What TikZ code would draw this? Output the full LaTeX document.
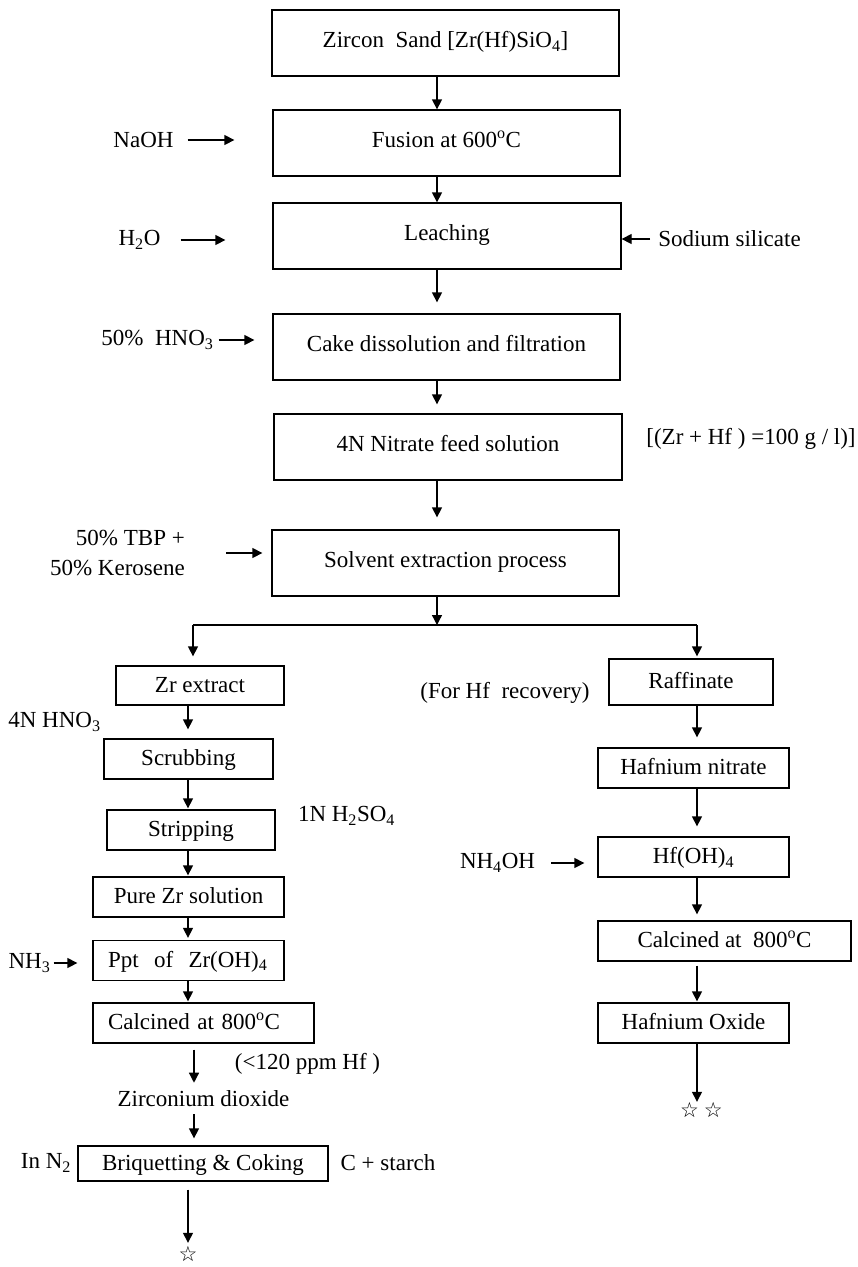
\documentclass[tikz,border=0pt]{standalone}
\usepackage{fontspec}
\setmainfont{Liberation Serif}
\newfontfamily\symfont{DejaVu Sans}
\usetikzlibrary{arrows.meta}
\begin{document}
\begin{tikzpicture}[x=1pt,y=-1pt,
  box/.style={draw, line width=1.3pt, inner sep=0pt, font=\fontsize{23}{27}\selectfont,
    text height=15pt, text depth=6pt},
  sbox/.style={draw, line width=1.3pt, inner sep=0pt, font=\fontsize{23}{27}\selectfont,
    text height=17pt, text depth=4pt},
  lbl/.style={inner sep=0pt, font=\fontsize{23}{30}\selectfont},
  arr/.style={line width=1.3pt, -{Triangle[length=10pt,width=10pt]}},
  ln/.style={line width=1.3pt},
  star/.style={inner sep=0pt, anchor=base, text height=13pt, text depth=0pt,
    font=\symfont\fontsize{21}{21}\selectfont}]
\useasboundingbox (0,0) rectangle (858,1267);

% main column
\node[box, minimum width=347pt, minimum height=66pt] (zircon) at (445.5,43) {Zircon\ \ Sand [Zr(Hf)SiO\textsubscript{4}]};
\node[box, minimum width=347pt, minimum height=66pt] (fusion) at (446.5,143) {Fusion at 600\textsuperscript{o}C};
\node[box, minimum width=348pt, minimum height=66pt] (leach) at (447,236) {Leaching};
\node[box, minimum width=347pt, minimum height=66pt] (cake) at (446.5,347) {Cake dissolution and filtration};
\node[box, minimum width=348pt, minimum height=66pt] (nitrate) at (448,447) {4N Nitrate feed solution};
\node[box, minimum width=347pt, minimum height=66pt] (solvent) at (445.5,563) {Solvent extraction process};

% side labels, main column
\node[lbl] (naoh) at (143.5,140) {NaOH};
\node[lbl] (h2o) at (139.5,240) {H\textsubscript{2}O};
\node[lbl] (sodium) at (729.5,239) {Sodium silicate};
\node[lbl] (hno3) at (157.5,340) {50\%\ \ HNO\textsubscript{3}};
\node[lbl] (conc) at (751,439) {[(Zr + Hf ) =100 g / l)]};
\node[lbl, align=right, anchor=east] (tbp) at (185,553) {50\% TBP +\\50\% Kerosene};

\coordinate (cx) at (437,0);
\draw[arr] (zircon.south -| cx) -- (fusion.north -| cx);
\draw[arr] (fusion.south -| cx) -- (leach.north -| cx);
\draw[arr, shorten >=11pt] (leach.south -| cx) -- (cake.north -| cx);
\draw[arr, shorten >=9pt] (cake.south -| cx) -- (nitrate.north -| cx);
\draw[arr, shorten >=12pt] (nitrate.south -| cx) -- (solvent.north -| cx);

\draw[arr, shorten <=14pt, shorten >=38pt] (naoh.east) -- (naoh.east -| fusion.west);
\draw[arr, shorten <=20pt, shorten >=47pt] (h2o.east) -- (h2o.east -| leach.west);
\draw[arr, shorten <=8pt] (sodium.west) -- (sodium.west -| leach.east);
\draw[arr, shorten <=5pt, shorten >=18pt] (hno3.east) -- (hno3.east -| cake.west);
\draw[arr, shorten <=41pt, shorten >=9pt] (tbp.east) -- (tbp.east -| solvent.west);

% split
\coordinate (split) at (437,625);
\coordinate (splitL) at (193,625);
\coordinate (splitR) at (697,625);
\draw[arr] (solvent.south -| cx) -- (split);
\draw[ln] (splitL) -- (splitR);

% left column
\node[sbox, minimum width=168pt, minimum height=39pt] (zrext) at (200,685.5) {Zr extract};
\node[sbox, minimum width=169pt, minimum height=40pt] (scrub) at (188.5,759) {Scrubbing};
\node[sbox, minimum width=168pt, minimum height=40pt] (strip) at (191,830) {Stripping};
\node[sbox, minimum width=191pt, minimum height=40pt] (pure) at (188.5,897) {Pure Zr solution};
\node[sbox, minimum width=191pt, minimum height=40pt, text width=161pt, align=left, inner xsep=15pt] (ppt) at (188.5,960.5) {Ppt\ \ of\ \ Zr(OH)\textsubscript{4}};
\node[sbox, minimum width=221pt, minimum height=40pt, text width=191pt, align=left, inner xsep=15pt] (calc1) at (203.5,1023) {Calcined at 800\textsuperscript{o}C};
\node[lbl] (zro2) at (203.5,1099) {Zirconium dioxide};
\node[sbox, minimum width=250pt, minimum height=35pt] (briq) at (203,1163.5) {Briquetting \& Coking};
\node[star] (star1) at (188,1261) {☆};

\node[lbl] (hno3b) at (54.5,722) {4N HNO\textsubscript{3}};
\node[lbl] (h2so4) at (346.5,816) {1N H\textsubscript{2}SO\textsubscript{4}};
\node[lbl] (nh3) at (29.5,963) {NH\textsubscript{3}};
\node[lbl] (ppm) at (307.5,1064) {(<120 ppm Hf )};
\node[lbl] (inn2) at (46,1163) {In N\textsubscript{2}};
\node[lbl] (cstarch) at (388,1163) {C + starch};

\coordinate (lx) at (188,0);
\coordinate (lx2) at (194,0);
\draw[arr, shorten >=9pt] (splitL) -- (zrext.north -| splitL);
\draw[arr, shorten >=9pt] (zrext.south -| lx) -- (scrub.north -| lx);
\draw[arr, shorten >=1pt] (scrub.south -| lx) -- (strip.north -| lx);
\draw[arr, shorten >=1pt] (strip.south -| lx) -- (pure.north -| lx);
\draw[arr, shorten >=2pt] (pure.south -| lx) -- (ppt.north -| lx);
\draw[arr, shorten >=1pt] (ppt.south -| lx) -- (calc1.north -| lx);
\draw[arr, shorten <=6pt, shorten >=8pt] (calc1.south -| lx2) -- (zro2.north -| lx2);
\draw[arr, shorten <=7pt, shorten >=7pt] (zro2.south -| lx2) -- (briq.north -| lx2);
\draw[arr, shorten <=8pt, shorten >=5pt] (briq.south -| lx) -- (star1.north -| lx);
\draw[arr, shorten <=3pt, shorten >=15pt] (nh3.east) -- (nh3.east -| ppt.west);

% right column
\node[sbox, minimum width=164pt, minimum height=46pt] (raff) at (691,682) {Raffinate};
\node[sbox, minimum width=191pt, minimum height=40pt] (hfn) at (693.5,768) {Hafnium nitrate};
\node[sbox, minimum width=191pt, minimum height=40pt] (hfoh) at (693.5,857) {Hf(OH)\textsubscript{4}};
\node[sbox, minimum width=253pt, minimum height=40pt] (calc2) at (724.5,941) {Calcined at\ \ 800\textsuperscript{o}C};
\node[sbox, minimum width=191pt, minimum height=40pt] (hfo) at (693.5,1023) {Hafnium Oxide};
\node[star] (star2) at (701.5,1117) {☆\hspace{5pt}☆};

\node[lbl] (forhf) at (505,693) {(For Hf\ \ recovery)};
\node[lbl] (nh4oh) at (497.5,863) {NH\textsubscript{4}OH};

\coordinate (rx) at (697,0);
\draw[arr, shorten >=2pt] (splitR) -- (raff.north -| splitR);
\draw[arr, shorten >=10pt] (raff.south -| rx) -- (hfn.north -| rx);
\draw[arr, shorten >=10pt] (hfn.south -| rx) -- (hfoh.north -| rx);
\draw[arr, shorten >=6pt] (hfoh.south -| rx) -- (calc2.north -| rx);
\draw[arr, shorten <=4pt, shorten >=1pt] (calc2.south -| rx) -- (hfo.north -| rx);
\draw[arr, shorten >=2pt] (hfo.south -| rx) -- (star2.north -| rx);
\draw[arr, shorten <=16pt, shorten >=13pt] (nh4oh.east) -- (nh4oh.east -| hfoh.west);
\end{tikzpicture}
\end{document}
